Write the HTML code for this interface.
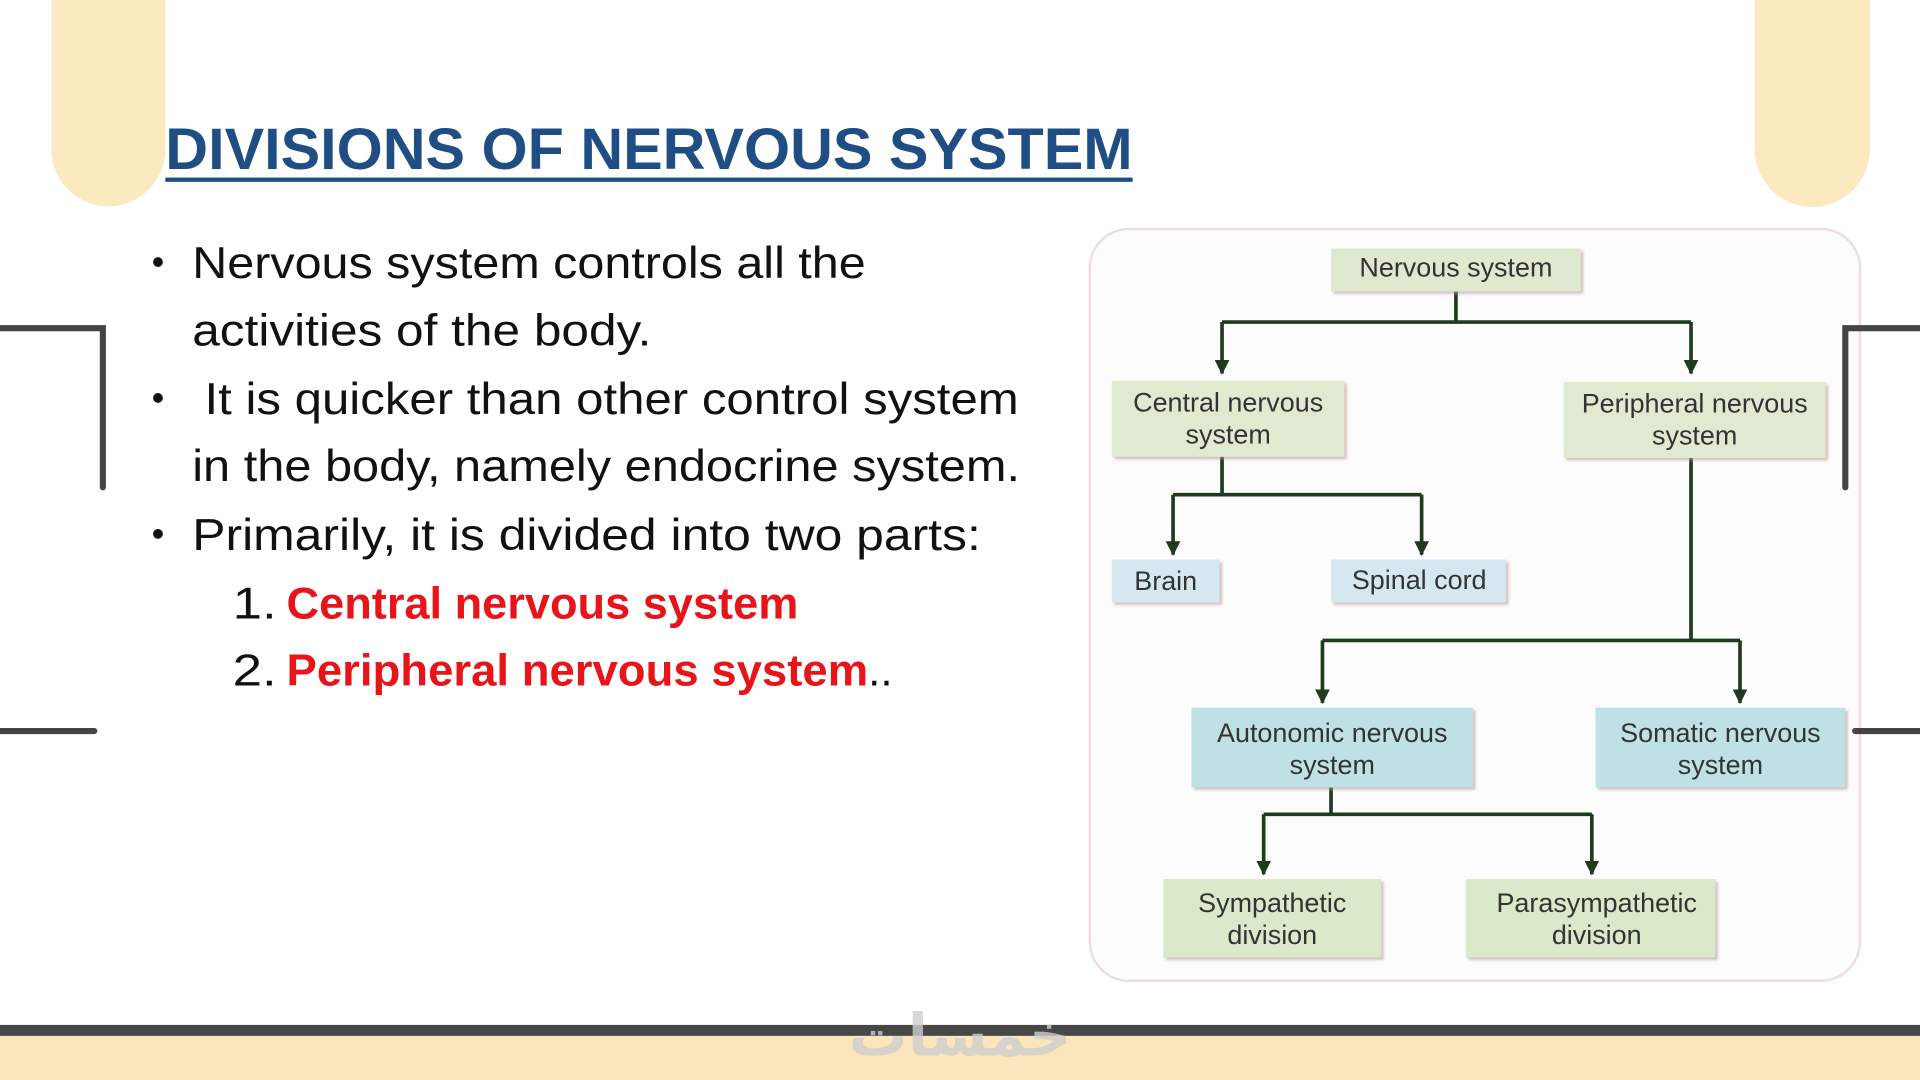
<!DOCTYPE html>
<html><head><meta charset="utf-8"><style>html,body{margin:0;padding:0;background:#fff;overflow:hidden}svg{display:block}</style></head>
<body>
<svg width="1920" height="1080" viewBox="0 0 1568 882" xmlns="http://www.w3.org/2000/svg">
<defs>
<marker id="ah" markerWidth="12" markerHeight="12" refX="11" refY="6" orient="auto" markerUnits="userSpaceOnUse" viewBox="0 0 12 12"><path d="M0,0 L12,6 L0,12 Z" fill="#1f3a1f"/></marker>
<filter id="sh" x="-5%" y="-5%" width="115%" height="125%"><feDropShadow dx="2" dy="2" stdDeviation="1" flood-color="#b89a9a" flood-opacity="0.6"/></filter>
</defs>
<rect width="1568" height="882" fill="#fff"/>
<!-- tabs -->
<path d="M42,0 H135 V122 A46.5,46.5 0 0 1 42,122 Z" fill="#fbe9c0"/>
<path d="M1433,0 H1527 V122 A47,47 0 0 1 1433,122 Z" fill="#fbe9c0"/>
<!-- bottom -->
<rect x="0" y="837" width="1568" height="9" fill="#474747"/>
<rect x="0" y="846" width="1568" height="36" fill="#fbe6bc"/>
<text x="784" y="862" text-anchor="middle" font-family="DejaVu Sans, sans-serif" font-size="48" fill="#cfcfcf" opacity="0.8" font-weight="bold">خمسات</text>
<!-- title -->
<text x="135" y="138" font-family="Liberation Sans, sans-serif" font-weight="bold" font-size="48" fill="#1f4e85" textLength="790" lengthAdjust="spacingAndGlyphs">DIVISIONS OF NERVOUS SYSTEM</text>
<rect x="135" y="145" width="790" height="3.5" fill="#1f4e85"/>
<!-- bullets -->
<g font-family="Liberation Sans, sans-serif" font-size="36" fill="#111">
<circle cx="129" cy="214" r="4" fill="#111"/>
<text x="157" y="227" textLength="550" lengthAdjust="spacingAndGlyphs">Nervous system controls all the</text>
<text x="157" y="282" textLength="375" lengthAdjust="spacingAndGlyphs">activities of the body.</text>
<circle cx="129" cy="325" r="4" fill="#111"/>
<text x="167" y="338" textLength="665" lengthAdjust="spacingAndGlyphs">It is quicker than other control system</text>
<text x="157" y="393" textLength="676" lengthAdjust="spacingAndGlyphs">in the body, namely endocrine system.</text>
<circle cx="129" cy="436" r="4" fill="#111"/>
<text x="157" y="449" textLength="644" lengthAdjust="spacingAndGlyphs">Primarily, it is divided into two parts:</text>
<text x="190" y="505" textLength="36" lengthAdjust="spacingAndGlyphs">1.</text>
<text x="190" y="560" textLength="36" lengthAdjust="spacingAndGlyphs">2.</text>
<text x="234" y="505" font-weight="bold" fill="#e8141a" textLength="418" lengthAdjust="spacingAndGlyphs">Central nervous system</text>
<text x="234" y="560" font-weight="bold" fill="#e8141a" textLength="475" lengthAdjust="spacingAndGlyphs">Peripheral nervous system</text>
<text x="709" y="560" textLength="20" lengthAdjust="spacingAndGlyphs">..</text>
</g>
<!-- diagram -->
<rect x="890" y="187" width="629" height="614" rx="32" fill="#fdfcfc" stroke="#f1dcdc" stroke-width="2"/>
<g stroke="#1f3a1f" stroke-width="3" fill="none">
<path d="M1189,238 V263"/><path d="M998,263 H1381"/>
<path d="M998,263 V305" marker-end="url(#ah)"/><path d="M1381,263 V305" marker-end="url(#ah)"/>
<path d="M998,373 V404"/><path d="M958,404 H1161"/>
<path d="M958,404 V453" marker-end="url(#ah)"/><path d="M1161,404 V453" marker-end="url(#ah)"/>
<path d="M1381,374 V523"/><path d="M1080,523 H1421"/>
<path d="M1080,523 V574" marker-end="url(#ah)"/><path d="M1421,523 V574" marker-end="url(#ah)"/>
<path d="M1087,643 V665"/><path d="M1032,665 H1300"/>
<path d="M1032,665 V714" marker-end="url(#ah)"/><path d="M1300,665 V714" marker-end="url(#ah)"/>
</g>
<g filter="url(#sh)">
<rect x="1087" y="203" width="204" height="35" fill="#dfe9cf"/>
<rect x="908" y="311" width="190" height="62" fill="#e0ead0"/>
<rect x="1277" y="312" width="214" height="62" fill="#e0ead0"/>
<rect x="908" y="457" width="88" height="35" fill="#d6e8ef"/>
<rect x="1087" y="457" width="143" height="35" fill="#d6e8ef"/>
<rect x="973" y="578" width="230" height="65" fill="#bfe1e3"/>
<rect x="1303" y="578" width="204" height="65" fill="#bfe1e3"/>
<rect x="950" y="718" width="178" height="64" fill="#d9e9ca"/>
<rect x="1197" y="718" width="204" height="64" fill="#d9e9ca"/>
</g>
<g font-family="Liberation Sans, sans-serif" font-size="22" fill="#333" text-anchor="middle">
<text x="1189" y="226">Nervous system</text>
<text x="1003" y="336">Central nervous</text><text x="1003" y="362">system</text>
<text x="1384" y="337">Peripheral nervous</text><text x="1384" y="363">system</text>
<text x="952" y="482">Brain</text>
<text x="1159" y="481">Spinal cord</text>
<text x="1088" y="606">Autonomic nervous</text><text x="1088" y="632">system</text>
<text x="1405" y="606">Somatic nervous</text><text x="1405" y="632">system</text>
<text x="1039" y="745">Sympathetic</text><text x="1039" y="771">division</text>
<text x="1304" y="745">Parasympathetic</text><text x="1304" y="771">division</text>
</g>
<!-- brackets (on top) -->
<g stroke="#444" stroke-width="5" fill="none" stroke-linecap="round">
<path d="M0,268 H84 V398"/><path d="M0,597 H77"/>
<path d="M1568,268 H1507 V398"/><path d="M1515,597 H1568"/>
</g>
</svg>
</body></html>
